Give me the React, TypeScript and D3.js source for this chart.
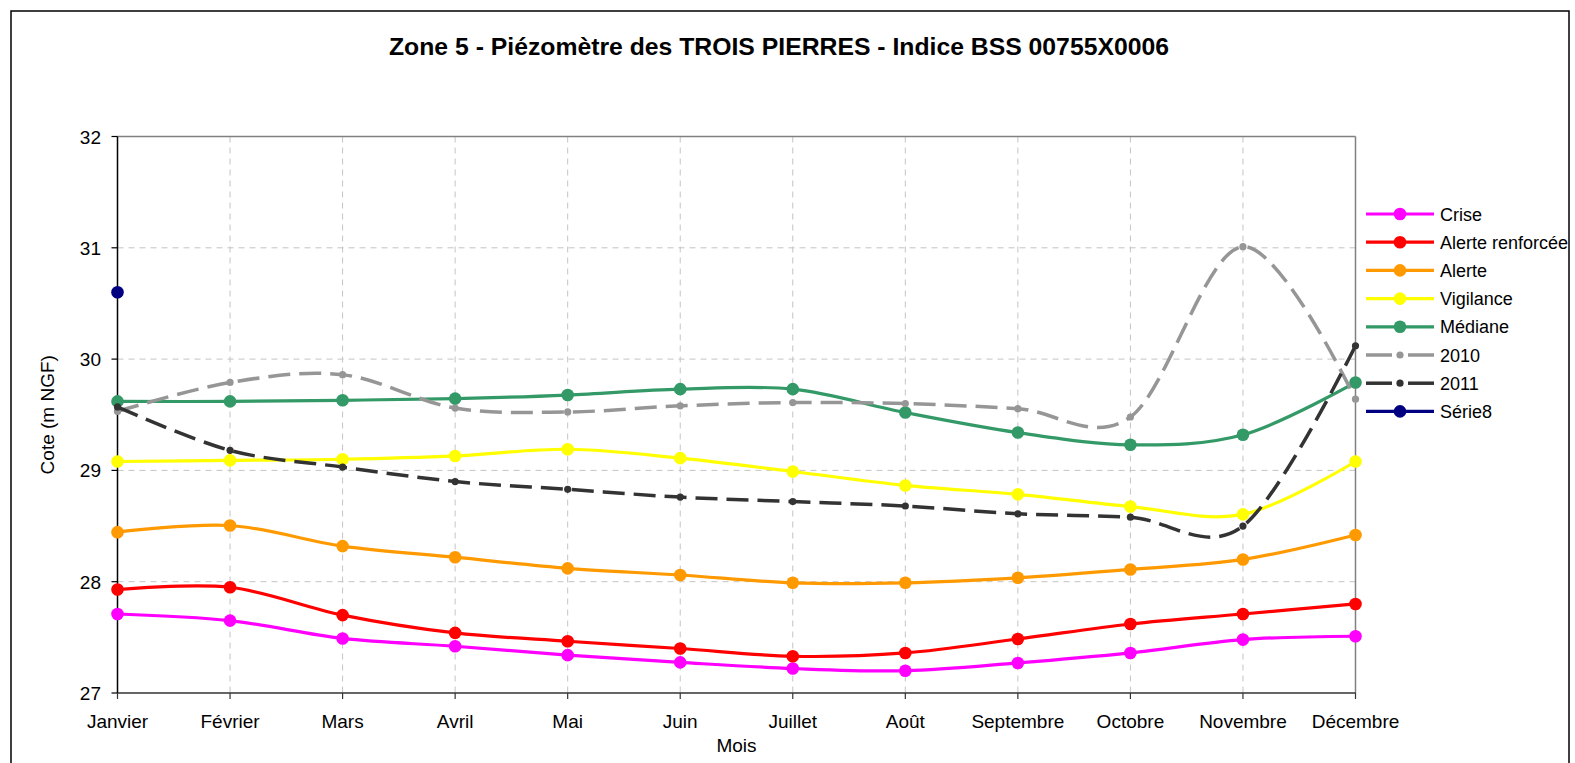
import React from 'react';
import * as d3 from 'd3';

// data
const months = ['Janvier', 'Février', 'Mars', 'Avril', 'Mai', 'Juin', 'Juillet', 'Août', 'Septembre', 'Octobre', 'Novembre', 'Décembre'];
const yTicks = [27, 28, 29, 30, 31, 32];

const crise = [27.71, 27.65, 27.49, 27.42, 27.34, 27.275, 27.22, 27.2, 27.27, 27.36, 27.48, 27.51];
const alerteRenforcee = [27.93, 27.95, 27.7, 27.54, 27.465, 27.4, 27.33, 27.36, 27.485, 27.62, 27.71, 27.8];
const alerte = [28.445, 28.505, 28.32, 28.22, 28.12, 28.06, 27.99, 27.99, 28.035, 28.11, 28.2, 28.42];
const vigilance = [29.08, 29.09, 29.1, 29.13, 29.19, 29.11, 28.99, 28.865, 28.785, 28.675, 28.605, 29.08];
const mediane = [29.62, 29.62, 29.63, 29.645, 29.677, 29.73, 29.73, 29.52, 29.34, 29.23, 29.32, 29.79];
const annee2010 = [29.53, 29.79, 29.86, 29.56, 29.525, 29.58, 29.61, 29.6, 29.555, 29.48, 31.01, 29.64];
const annee2011 = [29.57, 29.18, 29.03, 28.9, 28.83, 28.76, 28.72, 28.68, 28.61, 28.58, 28.5, 30.12];
const serie8 = [30.6];

const series = [
  { name: 'Crise', values: crise, color: '#FF00FF', dashed: false },
  { name: 'Alerte renforcée', values: alerteRenforcee, color: '#FF0000', dashed: false },
  { name: 'Alerte', values: alerte, color: '#FF9900', dashed: false },
  { name: 'Vigilance', values: vigilance, color: '#FFFF00', dashed: false },
  { name: 'Médiane', values: mediane, color: '#339966', dashed: false },
  { name: '2010', values: annee2010, color: '#969696', dashed: true },
  { name: '2011', values: annee2011, color: '#333333', dashed: true },
  { name: 'Série8', values: serie8, color: '#000080', dashed: false },
];

const W = 1575;
const H = 763;
const left = 117.5;
const right = 1355.5;
const top = 136.5;
const bottom = 693;
const font = '"Liberation Sans", Arial, sans-serif';

const App = () => {
  const x = d3.scalePoint<string>().domain(months).range([left, right]);
  const y = d3.scaleLinear().domain([27, 32]).range([bottom, top]);

  const line = d3.line<number>()
    .x((_, i) => x(months[i]) as number)
    .y(d => y(d))
    .curve(d3.curveCardinal.tension(0));

  return (
    <svg width={W} height={H} style={{ position: 'absolute', left: 0, top: 0, background: '#fff' }} fontFamily={font}>
      <rect x={11} y={11} width={1558} height={H} fill="#fff" stroke="#000" strokeWidth={1.5} />

      <text x={779} y={55} textAnchor="middle" fontSize={23} fontWeight="bold" textLength={780} lengthAdjust="spacingAndGlyphs">
        Zone 5 - Piézomètre des TROIS PIERRES - Indice BSS 00755X0006
      </text>

      {/* grid */}
      {yTicks.filter(t => t > 27 && t < 32).map(t => (
        <line key={'gy' + t} x1={left} x2={right} y1={y(t)} y2={y(t)} stroke="#c4c4c4" strokeWidth={1} strokeDasharray="6,5" />
      ))}
      {months.slice(1, -1).map(m => (
        <line key={'gx' + m} x1={x(m)} x2={x(m)} y1={top} y2={bottom} stroke="#c4c4c4" strokeWidth={1} strokeDasharray="6,5" />
      ))}

      {/* plot frame */}
      <line x1={left} x2={right} y1={top} y2={top} stroke="#808080" strokeWidth={1.5} />
      <line x1={right} x2={right} y1={top} y2={bottom} stroke="#808080" strokeWidth={1.5} />
      <line x1={left} x2={left} y1={top} y2={bottom} stroke="#000" strokeWidth={1.5} />
      <line x1={left} x2={right} y1={bottom} y2={bottom} stroke="#333" strokeWidth={1.5} />

      {/* y axis */}
      {yTicks.map(t => (
        <g key={'ty' + t}>
          <line x1={left - 6} x2={left} y1={y(t)} y2={y(t)} stroke="#000" strokeWidth={1.2} />
          <text x={101} y={y(t) + 7} textAnchor="end" fontSize={19}>{t}</text>
        </g>
      ))}
      {/* x axis */}
      {months.map(m => (
        <g key={'tx' + m}>
          <line x1={x(m)} x2={x(m)} y1={bottom} y2={bottom + 6} stroke="#333" strokeWidth={1.2} />
          <text x={x(m)} y={728} textAnchor="middle" fontSize={19}>{m}</text>
        </g>
      ))}

      <text x={736.5} y={752} textAnchor="middle" fontSize={19}>Mois</text>
      <text transform={`translate(54,${(top + bottom) / 2}) rotate(-90)`} textAnchor="middle" fontSize={19}>Cote (m NGF)</text>

      {/* series */}
      {series.map(s => (
        <g key={s.name}>
          {s.values.length > 1 && (
            <path d={line(s.values) || ''} fill="none" stroke={s.color} strokeWidth={s.dashed ? 3.5 : 3.2}
              strokeDasharray={s.dashed ? '22,9' : undefined} strokeLinejoin="round" />
          )}
          {s.values.map((v, i) => (
            <circle key={i} cx={x(months[i])} cy={y(v)} r={s.dashed ? 3.6 : 6.3} fill={s.color} />
          ))}
        </g>
      ))}

      {/* legend */}
      {series.map((s, i) => {
        const ly = 214 + i * 28.2;
        return (
          <g key={'lg' + s.name}>
            {s.dashed ? (
              <>
                <line x1={1366} x2={1392} y1={ly} y2={ly} stroke={s.color} strokeWidth={3.5} />
                <line x1={1408} x2={1434} y1={ly} y2={ly} stroke={s.color} strokeWidth={3.5} />
              </>
            ) : (
              <line x1={1366} x2={1434} y1={ly} y2={ly} stroke={s.color} strokeWidth={3.2} />
            )}
            <circle cx={1400} cy={ly} r={s.dashed ? 3.6 : 6.3} fill={s.color} />
            <text x={1440} y={ly + 6.5} fontSize={18}>{s.name}</text>
          </g>
        );
      })}
    </svg>
  );
};

export default App;
